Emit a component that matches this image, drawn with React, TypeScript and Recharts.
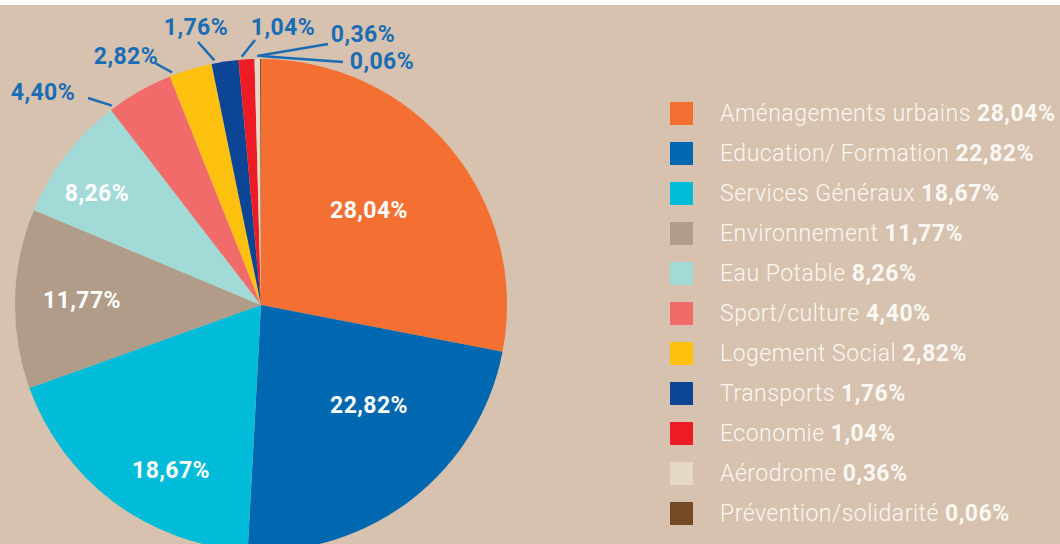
import { PieChart, Pie, Cell, Legend } from "recharts";

const categories = [
  "Aménagements urbains",
  "Education/ Formation",
  "Services Généraux",
  "Environnement",
  "Eau Potable",
  "Sport/culture",
  "Logement Social",
  "Transports",
  "Economie",
  "Aérodrome",
  "Prévention/solidarité",
];
const shares = [28.04, 22.82, 18.67, 11.77, 8.26, 4.4, 2.82, 1.76, 1.04, 0.36, 0.06];
const colors = [
  "#f37032", "#0067b1", "#00bcd8", "#b19b89", "#a2dad8", "#f26b6b",
  "#fec10f", "#0c4595", "#ed1c24", "#e6d8c6", "#744a26",
];

const data = categories.map((name, i) => ({ name, value: shares[i] }));
const total = shares.reduce((a, b) => a + b, 0);
const fmt = (v: number) => v.toFixed(2).replace(".", ",") + "%";

const BG = "#d6c2ae";
const LABEL_BLUE = "#1a6db5";
const CX = 261;
const CY = 300;
const R = 246;

// inner label centres, relative to the pie centre
const innerLayout = [
  { tx: 108, ty: -95 },
  { tx: 108, ty: 100 },
  { tx: -90, ty: 165 },
  { tx: -179, ty: -5 },
  { tx: -164, ty: -112 },
];
// outer labels: leader line end and text centre, relative to the pie centre
const outerLayout = [
  { lx: -173, ly: -207, tx: -218, ty: -213 },
  { lx: -106, ly: -242, tx: -135, ty: -249 },
  { lx: -63, ly: -263, tx: -65, ty: -278 },
  { lx: -6, ly: -265, tx: 22, ty: -278 },
  { lx: 67, ly: -261, tx: 102, ty: -271 },
  { lx: 82, ly: -243, tx: 121, ty: -244 },
];

const labelText = (x, y, fill, value) => (
  <text
    x={x}
    y={y}
    fill={fill}
    textAnchor="middle"
    dominantBaseline="central"
    fontFamily="Roboto"
    fontWeight={700}
    fontSize={23}
    letterSpacing={0.4}
  >
    {fmt(value)}
  </text>
);

const renderLabel = (props) => {
  const { cx, cy, outerRadius, index } = props;
  if (index < innerLayout.length) {
    const p = innerLayout[index];
    return labelText(cx + p.tx, cy + p.ty, "#ffffff", shares[index]);
  }
  // leader line starts just outside the rim, near the leading edge of the slice
  const before = shares.slice(0, index).reduce((a, b) => a + b, 0);
  const start = (before / total) * 360;
  const span = (shares[index] / total) * 360;
  const a = ((start + Math.min(0.8, span / 2)) * Math.PI) / 180;
  const x0 = cx + (outerRadius + 3) * Math.sin(a);
  const y0 = cy - (outerRadius + 3) * Math.cos(a);
  const o = outerLayout[index - innerLayout.length];
  return (
    <g>
      <line x1={x0} y1={y0} x2={cx + o.lx} y2={cy + o.ly} stroke={LABEL_BLUE} strokeWidth={2.5} />
      {labelText(cx + o.tx, cy + o.ty, LABEL_BLUE, shares[index])}
    </g>
  );
};

const renderLegend = () => (
  <div style={{ fontFamily: "Roboto", color: "#fbf7f2", fontSize: 23 }}>
    {categories.map((name, i) => (
      <div key={name} style={{ display: "flex", alignItems: "center", height: 40 }}>
        <span style={{ width: 23, height: 23, background: colors[i], marginRight: 27, flexShrink: 0 }} />
        <span style={{ fontWeight: 300, whiteSpace: "nowrap", letterSpacing: 0.5 }}>
          {name} <b style={{ fontWeight: 700 }}>{fmt(shares[i])}</b>
        </span>
      </div>
    ))}
  </div>
);

export default function App() {
  return (
    <div style={{ position: "fixed", left: 0, top: 0, width: 1060, height: 544, background: "#ffffff" }}>
      <div style={{ position: "absolute", left: 0, top: 5, width: 1060, height: 539, background: BG }}>
        <PieChart width={1060} height={539} margin={{ top: 0, right: 0, bottom: 0, left: 0 }}>
          <Pie
            data={data}
            dataKey="value"
            nameKey="name"
            cx={CX}
            cy={CY}
            outerRadius={R}
            startAngle={90}
            endAngle={-270}
            stroke="none"
            label={renderLabel}
            labelLine={false}
            isAnimationActive={false}
          >
            {data.map((d, i) => (
              <Cell key={d.name} fill={colors[i]} />
            ))}
          </Pie>
          <Legend
            content={renderLegend}
            wrapperStyle={{ position: "absolute", left: 670, top: 88, width: 390 }}
          />
        </PieChart>
      </div>
    </div>
  );
}
